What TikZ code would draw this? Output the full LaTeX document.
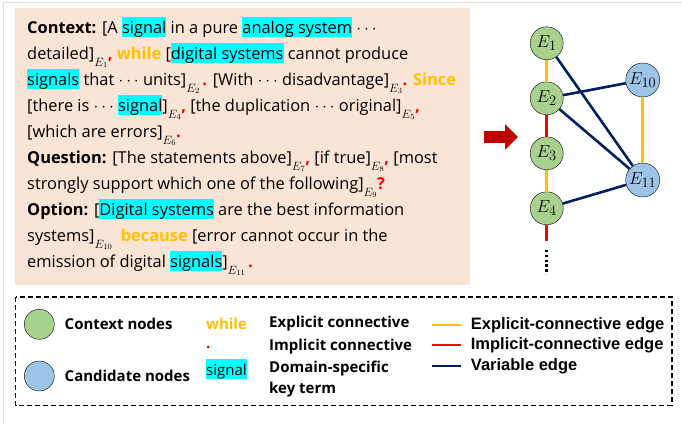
\documentclass[tikz,border=0pt]{standalone}
\usepackage[no-math]{fontspec}
\setmainfont{Open Sans}
\newfontfamily\arialfont[BoldFont={* Bold}]{Liberation Sans}
\usetikzlibrary{positioning,arrows.meta}

\definecolor{peach}{RGB}{250,228,214}
\definecolor{keycyan}{RGB}{0,255,255}
\definecolor{connorange}{RGB}{255,192,0}
\definecolor{punred}{RGB}{255,0,0}
\definecolor{varnavy}{RGB}{0,32,96}
\definecolor{ctxgreen}{RGB}{169,209,142}
\definecolor{candblue}{RGB}{157,195,230}
\definecolor{arrowred}{RGB}{192,0,0}

\newcommand{\kt}[1]{{\setlength{\fboxsep}{0pt}\colorbox{keycyan}{\rule[-4pt]{0pt}{20pt}#1}}}
\newcommand{\ed}[1]{]\raisebox{-7pt}{\fontsize{11.5}{12}\selectfont$E_{#1}$}}
\newcommand{\rp}[1]{\textcolor{punred}{\textbf{#1}}}
\newcommand{\cw}[1]{\textcolor{connorange}{\textbf{#1}}}

\begin{document}
\begin{tikzpicture}[
  x=1pt, y=1pt,
  node distance = 55pt,
  txt/.style={anchor=base west, inner sep=0pt, font=\fontsize{16.4}{20}\selectfont},
  cnode/.style={circle, draw=black, fill=ctxgreen, minimum size=33pt, inner sep=0pt, font=\fontsize{19}{19}\selectfont},
  qnode/.style={circle, draw=black, fill=candblue, minimum size=34pt, inner sep=0pt, font=\fontsize{19}{19}\selectfont},
  expedge/.style={-, line width=2.6pt, draw=connorange},
  impedge/.style={-, line width=2.6pt, draw=punred},
  varedge/.style={-, line width=2.6pt, draw=varnavy},
  lgtxt/.style={anchor=west, inner sep=0pt, font=\fontsize{15}{16}\selectfont\bfseries},
  edtxt/.style={anchor=west, inner sep=0pt, font=\fontsize{16.5}{18}\selectfont\arialfont\bfseries}
  ]

\useasboundingbox (0,0) rectangle (682,-423);
\draw [gray!25, line width=0.8pt] (3,-423) -- (3,-2) -- (682,-2);

% text panel
\fill [peach] (15,-8) rectangle (470,-285);
\node [txt] (l1) at (27,-33) {\textbf{Context:} [A \kt{signal} in a pure \kt{analog system} $\cdots$};
\node [txt] (l2) at (27,-59) {detailed\ed{1}\rp{,} \cw{while} [\kt{digital systems} cannot produce};
\node [txt] (l3) at (27,-85) {\kt{signals} that $\cdots$ units\ed{2}\,\rp{.} [With $\cdots$ disadvantage\ed{3}\rp{.} \cw{Since}};
\node [txt] (l4) at (27,-111) {[there is $\cdots$ \kt{signal}\ed{4}\rp{,} [the duplication $\cdots$ original\ed{5}\rp{,}};
\node [txt] (l5) at (27,-137) {[which are errors\ed{6}\rp{.}};
\node [txt] (l6) at (27,-163) {\textbf{Question:} [The statements above\ed{7}\rp{,} [if true\ed{8}\rp{,} [most};
\node [txt] (l7) at (27,-189) {strongly support which one of the following\ed{9}\rp{?}};
\node [txt] (l8) at (27,-215) {\textbf{Option:} [\kt{Digital systems} are the best information};
\node [txt] (l9) at (27,-241) {systems\ed{10}\ \ \cw{because} [error cannot occur in the};
\node [txt] (l10) at (27,-267) {emission of digital \kt{signals}\ed{11}\,\rp{.}};

% arrow
\draw [-{Triangle[length=13pt,width=25pt]}, line width=12pt, arrowred] (484,-137) -- (518,-137);

% graph
\node [cnode] (e1) at (546.7,-43.3) {$E_1$};
\node [cnode, below of=e1] (e2) {$E_2$};
\node [cnode, below of=e2] (e3) {$E_3$};
\node [cnode, below of=e3] (e4) {$E_4$};
\node [qnode] (e10) at (642.7,-80) {$E_{10}$};
\node [qnode, below of=e10, node distance=100pt] (e11) {$E_{11}$};
\coordinate (tail) at (546.7,-241);
\coordinate (dotend) at (546.7,-274);

\draw [varedge] (e1) -- (e11);
\draw [varedge] (e2) -- (e10);
\draw [varedge] (e2) -- (e11);
\draw [varedge] (e4) -- (e11);
\draw [expedge] (e1) -- (e2);
\draw [impedge] (e2) -- (e3);
\draw [expedge] (e3) -- (e4);
\draw [impedge] (e4) -- (tail);
\draw [line width=2.6pt, dash pattern=on 2.4pt off 2.4pt] ([yshift=-9pt]tail) -- (dotend);
\draw [expedge] (e10) -- (e11);

% legend
\draw [dashed, line width=1.2pt, dash pattern=on 5pt off 3pt] (15.7,-297) rectangle (672,-405.5);
\node [cnode, minimum size=30pt] (lgc) at (39.3,-324.3) {};
\node [qnode, minimum size=30pt] (lgq) at (39.3,-376) {};
\node [lgtxt, right=10pt of lgc] (lgct) {Context nodes};
\node [lgtxt, right=10pt of lgq] (lgqt) {Candidate nodes};
\node [lgtxt, font=\fontsize{15}{16}\selectfont\bfseries\color{connorange}] (kw) at (206,-324) {while};
\node [lgtxt, font=\fontsize{15}{16}\selectfont\bfseries\color{punred}] (kp) at (206,-347) {.};
\node [lgtxt, font=\fontsize{15}{16}\selectfont] (ks) at (206,-369) {\kt{signal}};
\node [lgtxt] (kwt) at (269,-324) {Explicit connective};
\node [lgtxt] (kpt) at (269,-347) {Implicit connective};
\node [lgtxt] (kst) at (269,-369) {Domain-specific};
\node [lgtxt] (kst2) at (269,-390) {key term};
\coordinate (ea) at (431.7,-325); \coordinate (eb) at (460.7,-325);
\coordinate (ia) at (431.7,-345); \coordinate (ib) at (460.7,-345);
\coordinate (va) at (431.7,-366); \coordinate (vb) at (460.7,-366);
\draw [expedge] (ea) -- (eb);
\draw [impedge] (ia) -- (ib);
\draw [varedge] (va) -- (vb);
\node [edtxt, right=10pt of eb] (et) {Explicit-connective edge};
\node [edtxt, right=10pt of ib] (it) {Implicit-connective edge};
\node [edtxt, right=10pt of vb] (vt) {Variable edge};

\end{tikzpicture}
\end{document}
